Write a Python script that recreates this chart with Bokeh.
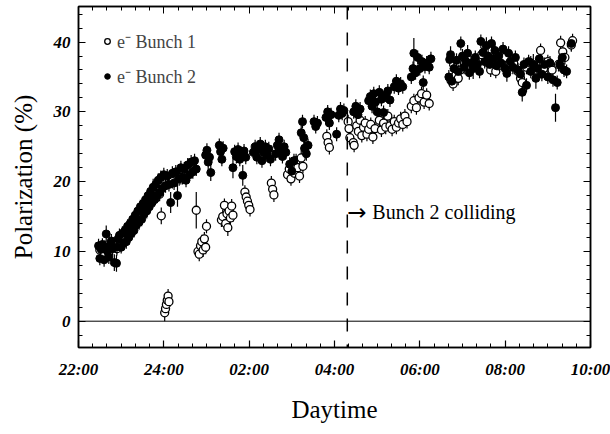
import numpy as np
from bokeh.plotting import figure
from bokeh.models import (ColumnDataSource, Range1d, LinearAxis, SingleIntervalTicker,
                          Span, Label, Legend, LegendItem)
from bokeh.embed import file_html
from bokeh.resources import INLINE

# ---------------- data (time in hours since midnight of day 1; 24+ = next day) -------------
b2_time = [22.47, 22.50, 22.53, 22.56, 22.60, 22.62, 22.65, 22.68, 22.71, 22.74, 22.77, 22.80,
           22.84, 22.89, 22.90, 22.93, 22.96, 23.00, 23.03, 23.06, 23.09, 23.12, 23.15, 23.18,
           23.21, 23.24, 23.27, 23.30, 23.33, 23.36, 23.39, 23.42, 23.45, 23.48, 23.51, 23.54,
           23.57, 23.60, 23.63, 23.66, 23.69, 23.72, 23.75, 23.78, 23.81, 23.84, 23.87, 23.90,
           23.93, 23.96,
           24.00, 24.04, 24.08, 24.12, 24.16, 24.20, 24.24, 24.28, 24.32, 24.36, 24.40, 24.44,
           24.48, 24.52, 24.56, 24.60, 24.64, 24.68, 24.72, 24.76,
           24.98, 25.01, 25.04, 25.07, 25.10, 25.30, 25.33, 25.36, 25.39,
           25.62, 25.66, 25.70, 25.74, 25.78, 25.82, 25.85, 25.88, 25.92,
           26.10, 26.14, 26.18, 26.22, 26.26, 26.30, 26.34, 26.38, 26.42, 26.46, 26.50,
           26.62, 26.66, 26.70, 26.74, 26.78, 26.82, 26.86,
           26.95, 27.00, 27.05, 27.22, 27.25, 27.28, 27.30, 27.34, 27.38,
           27.52, 27.56, 27.60, 27.80, 27.84, 27.88, 27.92, 28.05, 28.10, 28.14, 28.18, 28.22,
           28.45, 28.50, 28.55, 28.60, 28.80, 28.84, 28.88, 28.92, 28.96, 29.00, 29.05, 29.10,
           29.15, 29.20, 29.25, 29.30, 29.40, 29.45, 29.50, 29.55, 29.60, 29.80, 29.84, 29.86,
           29.90, 29.95, 30.00, 30.05, 30.08, 30.12, 30.16, 30.22, 30.26,
           30.68, 30.70, 30.72, 30.75, 30.80, 30.86, 30.90, 30.96, 31.00, 31.04, 31.08, 31.12,
           31.16, 31.20, 31.25, 31.30, 31.35, 31.40, 31.43, 31.48, 31.52, 31.56, 31.60, 31.64,
           31.68, 31.72, 31.76, 31.80, 31.85, 31.90, 31.95, 32.00, 32.04, 32.08, 32.12, 32.18,
           32.24, 32.30, 32.36, 32.40, 32.44, 32.50, 32.55, 32.60, 32.66, 32.72, 32.76, 32.80,
           32.86, 32.92, 33.00, 33.05, 33.12, 33.18, 33.22, 33.28, 33.34, 33.38, 33.44, 33.55]
b2_pol = [10.8, 9.0, 10.3, 11.0, 8.8, 10.6, 12.5, 10.0, 9.2, 10.9, 11.5, 10.4,
          8.4, 8.3, 10.6, 11.8, 12.3, 10.6, 12.6, 11.2, 13.0, 11.4, 13.6, 12.0,
          14.0, 12.6, 14.6, 13.0, 15.2, 13.8, 15.8, 14.2, 16.4, 14.6, 16.8, 15.4,
          17.4, 15.8, 18.0, 16.4, 18.6, 17.0, 19.2, 17.4, 19.6, 18.0, 20.2, 18.4,
          20.6, 19.0,
          21.0, 19.4, 20.8, 19.6, 17.0, 21.2, 19.8, 21.4, 18.0, 20.4, 22.0, 20.6,
          21.8, 20.2, 22.4, 21.0, 22.8, 21.4, 23.0, 21.8,
          23.8, 24.5, 22.8, 23.5, 21.3, 25.2, 24.3, 23.2, 24.8,
          22.0, 24.3, 23.6, 24.6, 23.2, 24.0, 20.9, 24.4, 23.5,
          24.2, 25.0, 23.5, 24.6, 25.4, 23.0, 24.2, 25.0, 23.8, 24.7, 23.2,
          24.0, 25.2, 26.0, 24.6, 23.6, 25.0, 24.2,
          22.5, 21.5, 23.0, 27.0, 28.6, 26.3, 24.8, 24.0, 25.2,
          28.6, 27.9, 28.4, 29.2, 30.0, 28.4, 29.6, 26.8, 29.5, 30.4, 29.8, 30.2,
          30.0, 30.8, 29.6, 30.4, 31.6, 32.2, 30.8, 32.6, 31.4, 30.0, 32.8, 31.8,
          29.9, 32.4, 33.0, 31.7, 33.6, 34.4, 33.4, 34.0, 33.6, 35.0, 36.2, 38.4,
          35.6, 37.8, 36.2, 37.2, 34.2, 36.5, 37.0, 36.4, 37.6,
          35.0, 37.5, 38.2, 34.4, 36.2, 37.4, 35.8, 39.8, 38.0, 36.4, 37.2, 38.4,
          35.6, 37.0, 36.2, 37.8, 36.8, 35.8, 40.1, 38.5, 37.2, 39.5, 38.0, 36.8,
          39.8, 37.6, 38.8, 36.6, 38.0, 37.0, 39.0, 36.2, 35.5, 38.4, 37.2, 36.4,
          37.8, 36.0, 35.4, 32.8, 36.8, 33.8, 37.2, 35.8, 36.8, 34.8, 36.2, 37.6,
          35.4, 36.8, 35.0, 37.0, 34.6, 30.6, 34.2, 36.8, 37.8, 36.0, 35.8, 39.8]
b2_err = [1.0, 1.0, 1.0, 0.9, 1.0, 1.0, 1.2, 1.0, 1.0, 0.9, 1.0, 1.0,
          1.2, 1.2, 0.9, 1.0, 1.0, 0.9, 1.0, 1.0, 1.0, 1.0, 1.0, 1.0,
          1.0, 1.0, 1.0, 1.0, 1.0, 1.0, 1.0, 1.1, 1.0, 1.0, 1.0, 1.0,
          1.0, 1.1, 1.0, 1.0, 1.0, 1.0, 1.2, 1.0, 1.0, 1.0, 1.0, 1.1,
          1.0, 1.0,
          1.0, 1.0, 1.0, 1.0, 1.5, 1.0, 1.0, 1.0, 1.6, 1.0, 1.0, 1.0,
          1.0, 1.0, 1.0, 1.0, 1.0, 1.0, 1.0, 1.0,
          1.0, 1.0, 1.0, 1.0, 1.2, 1.0, 1.0, 1.0, 1.0,
          1.5, 1.0, 1.0, 1.0, 1.0, 1.0, 1.5, 1.0, 1.0,
          1.0, 1.0, 1.0, 1.0, 1.0, 1.0, 1.0, 1.0, 1.0, 1.0, 1.0,
          1.0, 1.0, 1.0, 1.0, 1.0, 1.0, 1.0,
          1.0, 1.0, 1.0, 1.0, 1.0, 1.0, 1.0, 1.0, 1.0,
          1.0, 1.0, 1.0, 1.0, 1.0, 1.0, 1.0, 1.0, 1.0, 1.0, 1.0, 1.0,
          1.0, 1.0, 1.0, 1.0, 1.0, 1.0, 1.0, 1.0, 1.0, 1.0, 1.0, 1.0,
          1.0, 1.0, 1.0, 1.0, 1.0, 1.0, 1.0, 1.0, 1.0, 1.0, 1.0, 2.2,
          1.0, 1.0, 1.0, 1.0, 1.0, 1.0, 1.0, 1.0, 1.0,
          1.0, 1.0, 1.2, 1.0, 1.0, 1.0, 1.0, 1.0, 1.0, 1.0, 1.0, 1.2,
          1.0, 1.0, 1.5, 1.0, 1.0, 1.0, 1.0, 1.0, 1.0, 1.2, 1.0, 1.0,
          1.0, 1.0, 1.0, 1.0, 1.0, 1.0, 1.0, 1.0, 1.2, 1.0, 1.0, 1.0,
          1.0, 1.0, 1.0, 1.3, 1.0, 1.0, 1.0, 1.0, 1.5, 1.5, 1.0, 1.0,
          1.0, 1.0, 1.0, 1.0, 1.0, 2.0, 1.0, 1.0, 1.0, 1.0, 1.0, 1.0]

b1_time = [22.50, 22.60, 22.70, 22.80, 22.90, 23.00, 23.10, 23.20, 23.30, 23.40, 23.50, 23.60,
           23.70, 23.80, 23.90, 23.94,
           24.02, 24.04, 24.06, 24.08, 24.10, 24.12,
           24.20, 24.40, 24.60, 24.76,
           24.80, 24.83, 24.86, 24.89, 24.92, 24.95, 24.98, 25.00,
           25.35, 25.38, 25.42, 25.45, 25.48, 25.50, 25.53, 25.56, 25.59, 25.62,
           25.90, 25.93, 25.96, 25.99, 26.02,
           26.52, 26.55, 26.58,
           26.90, 26.94, 26.98, 27.02, 27.06, 27.10, 27.14, 27.18, 27.22, 27.26,
           27.82, 27.85, 27.88,
           28.32, 28.34, 28.36, 28.44, 28.46,
           28.52, 28.56, 28.60, 28.64, 28.68, 28.72, 28.76, 28.80, 28.85, 28.90, 28.95,
           29.05, 29.10, 29.15, 29.20, 29.25, 29.30, 29.35, 29.40, 29.45, 29.50, 29.55, 29.60,
           29.65, 29.70,
           29.80, 29.86, 29.92, 29.98, 30.04, 30.10, 30.16, 30.22,
           30.73, 30.78, 30.84, 30.90, 30.95, 31.05, 31.15, 31.30, 31.45, 31.60, 31.66, 31.72,
           31.78, 31.84, 32.00, 32.10, 32.20, 32.30, 32.36, 32.40, 32.50, 32.60, 32.70, 32.83,
           32.90, 33.00, 33.10, 33.25, 33.30, 33.35, 33.40, 33.55, 33.58]
b1_pol = [10.2, 9.4, 10.5, 11.0, 10.4, 11.8, 12.6, 13.2, 14.0, 14.6, 15.4, 16.0,
          17.0, 17.6, 18.2, 15.1,
          1.2, 1.8, 2.4, 3.0, 3.6, 2.8,
          20.0, 20.6, 21.6, 15.9,
          10.0, 9.6, 10.8, 11.4, 10.2, 11.8, 10.6, 13.6,
          14.5, 15.0, 16.6, 14.0, 15.4, 13.4, 15.8, 14.8, 16.5, 15.2,
          18.5, 17.8, 17.2, 16.6, 16.0,
          19.8, 18.9, 18.1,
          21.0, 21.8, 20.4, 22.4, 21.2, 23.0, 22.0, 20.8, 23.4, 22.2,
          26.5, 25.6, 24.9,
          28.6, 27.6, 26.3, 25.6, 25.2,
          28.0, 27.2, 28.8, 26.6, 27.8, 28.4, 26.8, 27.5, 28.2, 26.4, 27.6,
          28.8, 27.4, 28.4, 27.8, 29.4, 28.0, 27.5, 28.6, 27.8, 28.4, 29.0, 28.2,
          29.4, 28.6,
          30.8, 31.6, 30.6, 32.0, 32.6, 31.4, 32.4, 31.2,
          34.5, 34.0, 35.2, 34.8, 36.0, 37.0, 36.6, 37.4, 38.2, 37.0, 36.0, 37.4,
          35.8, 36.6, 37.8, 36.4, 37.0, 35.8, 34.8, 34.2, 36.4, 37.0, 36.0, 38.8,
          36.2, 37.2, 36.0, 36.8, 39.9, 38.6, 37.8, 39.6, 40.2]
b1_err = [1.0, 1.0, 1.0, 1.0, 1.0, 1.0, 1.0, 1.0, 1.0, 1.0, 1.0, 1.0,
          1.0, 1.0, 1.0, 1.2,
          1.2, 1.0, 1.0, 1.0, 1.0, 1.0,
          1.0, 1.0, 1.0, 2.6,
          1.0, 1.0, 1.0, 1.0, 1.0, 1.0, 1.0, 1.0,
          1.0, 1.0, 1.0, 1.0, 1.0, 1.2, 1.0, 1.0, 1.0, 1.0,
          1.0, 1.0, 1.0, 1.0, 1.0,
          1.0, 1.0, 1.0,
          1.0, 1.0, 1.0, 1.0, 1.0, 1.0, 1.0, 1.0, 1.5, 1.0,
          1.0, 1.0, 1.0,
          1.0, 1.0, 1.0, 1.0, 1.0,
          1.0, 1.0, 1.0, 1.0, 1.0, 1.0, 1.0, 1.0, 1.0, 1.0, 1.0,
          1.0, 1.0, 1.0, 1.0, 1.0, 1.0, 1.0, 1.0, 1.0, 1.0, 1.0, 1.0,
          1.0, 1.0,
          1.0, 1.0, 1.0, 1.0, 1.0, 1.0, 1.0, 1.0,
          1.0, 1.0, 1.0, 1.0, 1.0, 1.0, 1.0, 1.0, 1.0, 1.0, 1.0, 1.0,
          1.0, 1.0, 1.0, 1.0, 1.0, 1.0, 1.0, 1.0, 1.0, 1.0, 1.0, 1.0,
          1.0, 1.0, 1.0, 1.0, 1.0, 1.0, 1.0, 1.0, 1.0]

tick_hours = [22, 24, 26, 28, 30, 32, 34]
tick_labels = ["22:00", "24:00", "02:00", "04:00", "06:00", "08:00", "10:00"]
collide_time = 28.3
collide_arrow = "\u2192"
collide_label = "Bunch 2 colliding"
collide_label_pol = 15.7
series_labels = ["e\u207b Bunch 1", "e\u207b Bunch 2"]

SERIF = "Liberation Serif"

def make_source(t, v, e):
    v = np.asarray(v, dtype=float)
    e = np.asarray(e, dtype=float)
    return ColumnDataSource(dict(x=t, y=v, lo=v - e, hi=v + e))

src1 = make_source(b1_time, b1_pol, b1_err)
src2 = make_source(b2_time, b2_pol, b2_err)

p = figure(width=610, height=434, output_backend="svg", toolbar_location=None,
           x_range=Range1d(22, 34), y_range=Range1d(-3.77, 45.1),
           min_border_left=78, min_border_right=20, min_border_top=6, min_border_bottom=87,
           x_axis_label="Daytime", y_axis_label="Polarization (%)")
p.grid.visible = False
p.outline_line_color = "black"
p.outline_line_width = 1.5
p.background_fill_color = "white"
p.border_fill_color = "white"

p.xaxis.ticker = SingleIntervalTicker(interval=2, num_minor_ticks=6)
p.yaxis.ticker = SingleIntervalTicker(interval=10, num_minor_ticks=5)
p.xaxis.major_label_overrides = {h: l for h, l in zip(tick_hours, tick_labels)}

for ax in (p.xaxis[0], p.yaxis[0]):
    ax.axis_line_width = 1.5
    ax.major_tick_in = 7
    ax.major_tick_out = 0
    ax.minor_tick_in = 4
    ax.minor_tick_out = 0
    ax.major_tick_line_width = 1.2
    ax.major_label_text_font = SERIF
    ax.major_label_text_font_style = "bold italic"
    ax.major_label_text_font_size = "17px"
    ax.major_label_text_color = "black"
    ax.axis_label_text_font = SERIF
    ax.axis_label_text_font_style = "normal"
    ax.axis_label_text_font_size = "25px"
    ax.axis_label_text_color = "black"

p.xaxis.major_label_standoff = 12
p.xaxis.axis_label_standoff = 14
p.yaxis.major_label_standoff = 8
p.yaxis.axis_label_standoff = 14

top = LinearAxis(ticker=SingleIntervalTicker(interval=2, num_minor_ticks=6),
                 major_label_text_font_size="1px", major_label_text_color=None,
                 major_label_standoff=0,
                 major_tick_in=7, major_tick_out=0, minor_tick_in=4, minor_tick_out=0,
                 axis_line_width=1.5)
right = LinearAxis(ticker=SingleIntervalTicker(interval=10, num_minor_ticks=5),
                   major_label_text_font_size="1px", major_label_text_color=None,
                   major_label_standoff=0,
                   major_tick_in=7, major_tick_out=0, minor_tick_in=4, minor_tick_out=0,
                   axis_line_width=1.5)
p.add_layout(top, "above")
p.add_layout(right, "right")

p.add_layout(Span(location=0, dimension="width", line_color="black", line_width=1))
p.add_layout(Span(location=collide_time, dimension="height", line_color="black",
                  line_width=1.5, line_dash="13 13"))
p.add_layout(Label(x=collide_time, y=collide_label_pol, text=collide_arrow,
                   text_font="DejaVu Sans", text_font_size="23px", text_baseline="middle",
                   text_align="left", text_color="black"))
p.add_layout(Label(x=collide_time, y=collide_label_pol, text=collide_label, x_offset=25,
                   text_font=SERIF, text_font_size="20px", text_baseline="middle",
                   text_align="left", text_color="black"))

p.segment(x0="x", y0="lo", x1="x", y1="hi", source=src1, line_color="black", line_width=1.2)
p.segment(x0="x", y0="lo", x1="x", y1="hi", source=src2, line_color="black", line_width=1.2)
r1 = p.scatter("x", "y", source=src1, marker="circle", size=8, fill_color="white",
               line_color="black", line_width=1.3)
r2 = p.scatter("x", "y", source=src2, marker="circle", size=8, fill_color="black",
               line_color="black", line_width=1.0)

legend = Legend(items=[LegendItem(label=series_labels[0], renderers=[r1]),
                       LegendItem(label=series_labels[1], renderers=[r2])],
                location="top_left", margin=22, padding=6, spacing=9,
                glyph_width=14, glyph_height=26, label_height=26, label_standoff=3,
                label_text_font=SERIF, label_text_font_size="18px",
                border_line_color=None, background_fill_alpha=0)
p.add_layout(legend)

open("out.html", "w").write(file_html(p, INLINE))
